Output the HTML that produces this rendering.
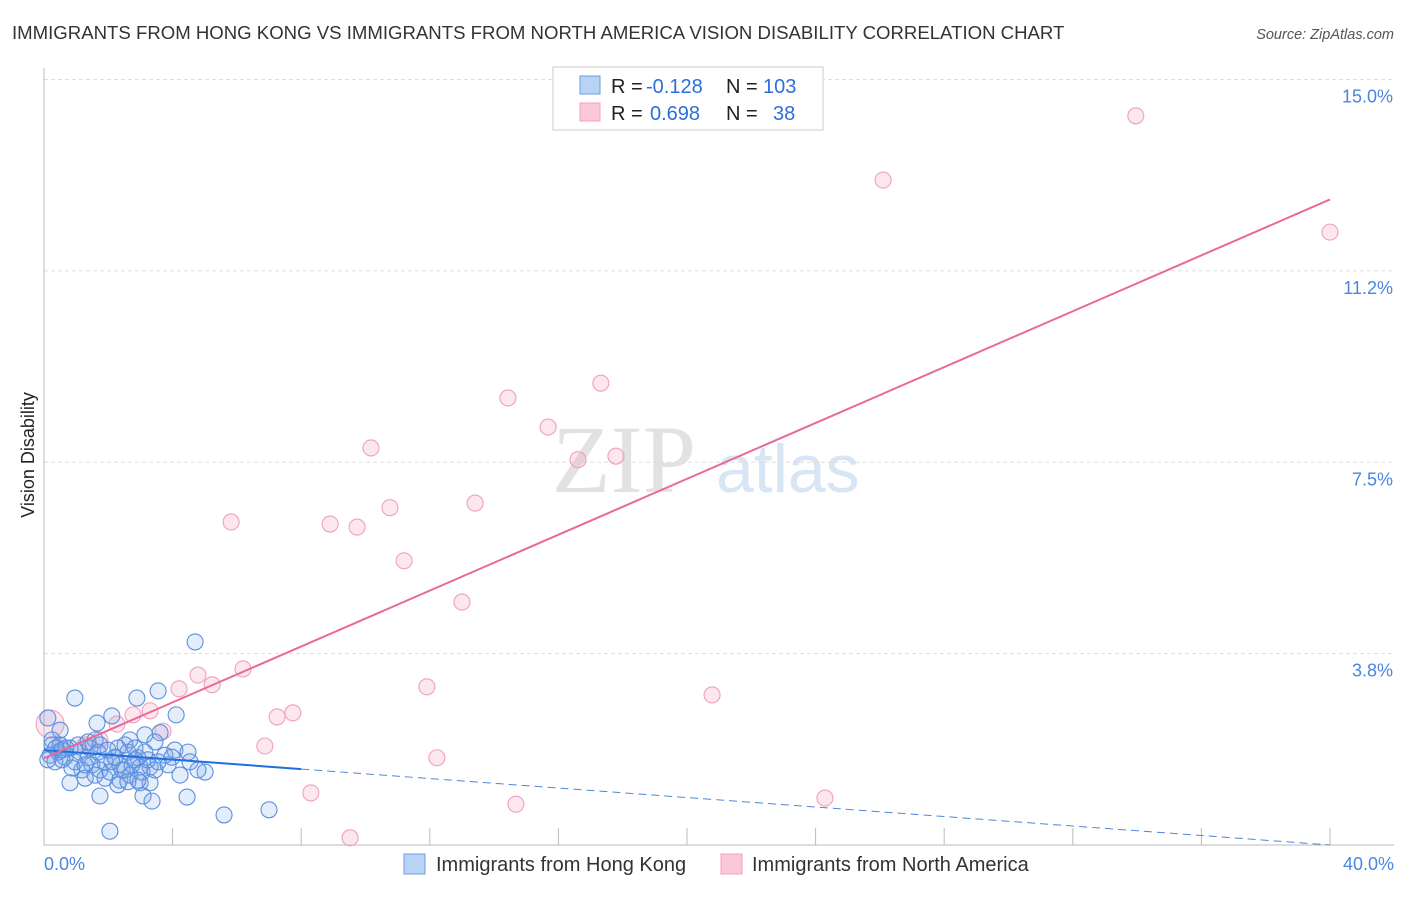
<!DOCTYPE html>
<html><head><meta charset="utf-8"><style>
body{margin:0;background:#fff;font-family:"Liberation Sans",sans-serif;}
</style></head><body>
<svg id="c" width="1406" height="892" style="font-family:'Liberation Sans',sans-serif">
<text x="12" y="39" font-size="18.6" fill="#333">IMMIGRANTS FROM HONG KONG VS IMMIGRANTS FROM NORTH AMERICA VISION DISABILITY CORRELATION CHART</text>
<text x="1394" y="39" font-size="14.5" fill="#555" font-style="italic" text-anchor="end">Source: ZipAtlas.com</text>
<text x="34" y="455" font-size="18" fill="#222" transform="rotate(-90 34 455)" text-anchor="middle">Vision Disability</text>
<text x="552" y="492" font-size="96" fill="#e2e2e2" style="font-family:'Liberation Serif',serif">ZIP</text>
<text x="716" y="492" font-size="68" fill="#d7e5f5">atlas</text>
<g id="grid"></g><g id="pts"></g><g id="lines"></g>
<g>
<rect x="553" y="67" width="270" height="63" fill="#fff" stroke="#ccc"/>
<rect x="580" y="76" width="20" height="18" fill="#b9d3f5" stroke="#6d9de0"/>
<rect x="580" y="103" width="20" height="18" fill="#fcc8d8" stroke="#f0a0bc"/>
<text x="611" y="93" font-size="20" fill="#222">R =</text>
<text x="646" y="93" font-size="20" fill="#2a6fdb">-0.128</text>
<text x="726" y="93" font-size="20" fill="#222">N =</text>
<text x="763" y="93" font-size="20" fill="#2a6fdb">103</text>
<text x="611" y="120" font-size="20" fill="#222">R =</text>
<text x="650" y="120" font-size="20" fill="#2a6fdb">0.698</text>
<text x="726" y="120" font-size="20" fill="#222">N =</text>
<text x="773" y="120" font-size="20" fill="#2a6fdb">38</text>
</g>
<g>
<rect x="404" y="854" width="21" height="20" fill="#b9d3f5" stroke="#6d9de0"/>
<text x="436" y="871" font-size="20" fill="#333">Immigrants from Hong Kong</text>
<rect x="721" y="854" width="21" height="20" fill="#fcc8d8" stroke="#f0a0bc"/>
<text x="752" y="871" font-size="20" fill="#333">Immigrants from North America</text>
</g>
</svg>
<script>
const yTicks=[15.0,11.25,7.5,3.75];
const yTickLabels=["15.0%","11.2%","7.5%","3.8%"];
const xTickLabels=["0.0%","40.0%"];
const pinkX=[33.96,26.10,40.0,17.32,14.43,15.68,10.17,16.61,17.79,13.41,10.76,5.82,8.90,9.74,11.20,13.00,6.19,4.79,5.23,4.20,11.91,20.78,3.30,7.74,7.25,2.77,3.70,2.27,6.87,12.22,8.30,14.68,24.29,9.52,0.19,0.5,1.28,1.74];
const pinkY=[14.29,13.03,12.01,9.05,8.76,8.19,7.78,7.55,7.62,6.70,6.61,6.33,6.29,6.23,5.57,4.76,3.45,3.33,3.14,3.06,3.10,2.94,2.63,2.59,2.51,2.55,2.23,2.37,1.94,1.71,1.02,0.80,0.92,0.14,2.37,1.96,1.96,2.06];
const blueX=[4.70,0.96,2.89,3.55,4.11,2.11,1.65,0.50,0.12,1.59,1.74,2.67,3.14,3.61,3.45,4.07,4.48,0.25,0.44,0.65,0.81,1.12,1.37,1.49,1.90,2.21,2.36,2.52,2.83,2.99,3.30,3.76,4.54,5.01,0.19,0.56,0.96,1.18,1.74,2.05,2.36,2.67,2.99,3.30,0.81,1.28,1.74,3.08,3.36,4.45,5.60,7.00,2.05,0.50,0.68,1.06,1.43,1.99,2.30,2.61,2.92,3.23,3.98,0.34,0.87,1.59,2.21,2.52,2.83,3.14,0.25,0.56,1.37,1.68,2.11,2.43,2.74,3.05,3.55,3.86,4.23,4.79,0.12,0.37,1.28,1.90,2.30,2.61,2.92,3.45];
const blueY=[3.98,2.88,2.88,3.02,2.55,2.53,2.39,2.25,2.49,2.06,1.96,2.06,2.16,2.20,2.02,1.86,1.82,1.96,1.82,1.72,1.90,1.82,1.71,1.57,1.63,1.72,1.57,1.47,1.67,1.53,1.53,1.76,1.63,1.43,1.76,1.67,1.63,1.47,1.47,1.43,1.27,1.37,1.22,1.22,1.22,1.31,0.96,0.96,0.86,0.94,0.59,0.69,0.27,1.96,1.90,1.96,1.90,1.86,1.90,1.82,1.71,1.67,1.72,1.63,1.51,1.37,1.71,1.96,1.90,1.82,2.06,1.86,2.02,1.82,1.63,1.47,1.57,1.43,1.63,1.57,1.37,1.47,1.67,1.90,1.57,1.31,1.18,1.24,1.27,1.47];
const pinkLine=[1.7,12.65];
const blueLine=[1.86,0.0];
const blueSolidEnd=8.0;
const NS="http://www.w3.org/2000/svg";
const X=v=>44+v/40*1286, Y=v=>845-v*51.03;
function mk(t,a,p){const e=document.createElementNS(NS,t);for(const k in a)e.setAttribute(k,a[k]);p.appendChild(e);return e;}
const g=document.getElementById('grid');
yTicks.forEach((t,i)=>{
 const l=mk('line',{x1:44,x2:1394,y1:Y(t),y2:Y(t),stroke:'#ddd','stroke-dasharray':'4,3'},g);
 
 
 const tx=mk('text',{x:1393,y:Y(t)+23,'font-size':18,fill:'#4a86e0','text-anchor':'end'},g);
 tx.textContent=yTickLabels[i];
 
 
});
mk('line',{x1:44,x2:44,y1:68,y2:845,stroke:'#bbb'},g);
mk('line',{x1:44,x2:1394,y1:845,y2:845,stroke:'#bbb'},g);
for(let i=1;i<=10;i++){const tk=mk('line',{x1:X(i*4),x2:X(i*4),y1:828,y2:845,stroke:'#bbb'},g);
 
 }
[[44,'start'],[1394,'end']].forEach((p,i)=>{const tx=mk('text',{x:p[0],y:870,'font-size':18,fill:'#4a86e0','text-anchor':p[1]},g);tx.textContent=xTickLabels[i];
 
 });
const pg=document.getElementById('pts');
pinkX.forEach((x,i)=>{const c=mk('circle',{cx:X(x),cy:Y(pinkY[i]),r:i==34?14:8,fill:'rgba(244,160,190,0.25)',stroke:'#f0a0bc','stroke-width':1.1},pg);
 
 });
blueX.forEach((x,i)=>{const c=mk('circle',{cx:X(x),cy:Y(blueY[i]),r:8,fill:'rgba(120,165,230,0.2)',stroke:'#5b8fe0','stroke-width':1.1},pg);
 
 });
const lg=document.getElementById('lines');
const bAt=v=>blueLine[0]+(blueLine[1]-blueLine[0])*v/40;
const b1=mk('line',{x1:X(0),y1:Y(bAt(0)),x2:X(blueSolidEnd),y2:Y(bAt(blueSolidEnd)),stroke:'#1f6fe0','stroke-width':2},lg);


const b2=mk('line',{x1:X(blueSolidEnd),y1:Y(bAt(blueSolidEnd)),x2:X(40),y2:Y(bAt(40)),stroke:'#4f86dc','stroke-width':1,'stroke-dasharray':'8,5'},lg);


const p1=mk('line',{x1:X(0),y1:Y(pinkLine[0]),x2:X(40),y2:Y(pinkLine[1]),stroke:'#e8699a','stroke-width':2},lg);


</script>
</body></html>
